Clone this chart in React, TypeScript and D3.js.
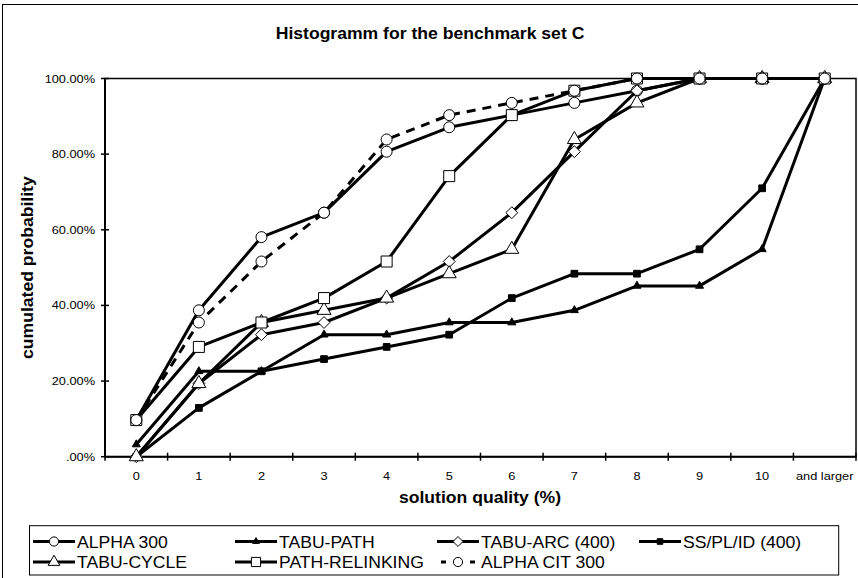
import React from "react";
import * as d3 from "d3";

const categories = ["0", "1", "2", "3", "4", "5", "6", "7", "8", "9", "10", "and larger"];
const yTicks = [0, 20, 40, 60, 80, 100];
const yTickLabels = [".00%", "20.00%", "40.00%", "60.00%", "80.00%", "100.00%"];

const alpha300 = [9.68, 38.71, 58.06, 64.52, 80.65, 87.1, 90.32, 93.55, 96.77, 100, 100, 100];
const tabuPath = [3.23, 22.58, 22.58, 32.26, 32.26, 35.48, 35.48, 38.71, 45.16, 45.16, 54.84, 100];
const tabuArc = [0, 19.35, 32.26, 35.48, 41.94, 51.61, 64.52, 80.65, 96.77, 100, 100, 100];
const ssPlId = [0, 12.9, 22.58, 25.81, 29.03, 32.26, 41.94, 48.39, 48.39, 54.84, 70.97, 100];
const tabuCycle = [0, 19.35, 35.48, 38.71, 41.94, 48.39, 54.84, 83.87, 93.55, 100, 100, 100];
const pathRelinking = [9.68, 29.03, 35.48, 41.94, 51.61, 74.19, 90.32, 96.77, 100, 100, 100, 100];
const alphaCit = [9.68, 35.48, 51.61, 64.52, 83.87, 90.32, 93.55, 96.77, 100, 100, 100, 100];

const seriesNames = ["ALPHA 300", "TABU-PATH", "TABU-ARC (400)", "SS/PL/ID (400)", "TABU-CYCLE", "PATH-RELINKING", "ALPHA CIT 300"];

// marker style per series
const series = [
  { name: seriesNames[0], values: alpha300, sym: d3.symbolCircle, size: 95, fill: "#fff", dash: null },
  { name: seriesNames[1], values: tabuPath, sym: d3.symbolTriangle, size: 28, fill: "#000", dash: null },
  { name: seriesNames[2], values: tabuArc, sym: d3.symbolDiamond2, size: 90, fill: "#fff", dash: null },
  { name: seriesNames[3], values: ssPlId, sym: d3.symbolSquare, size: 45, fill: "#000", dash: null },
  { name: seriesNames[4], values: tabuCycle, sym: d3.symbolTriangle, size: 85, fill: "#fff", dash: null },
  { name: seriesNames[5], values: pathRelinking, sym: d3.symbolSquare, size: 121, fill: "#fff", dash: null },
  { name: seriesNames[6], values: alphaCit, sym: d3.symbolCircle, size: 95, fill: "#fff", dash: "9,7" },
];

const FONT = "'Liberation Sans', Arial, Helvetica, sans-serif";

// text is a little wider than Arial in the original, so stretch it along the baseline
const T = ({ x, y, rot = 0, size = 12, bold = false, anchor = "start", children }: any) => (
  <text
    transform={`translate(${x},${y}) rotate(${rot}) scale(1.1,1)`}
    fontSize={size}
    fontWeight={bold ? "bold" : "normal"}
    textAnchor={anchor}
    fontFamily={FONT}
    fill="#000"
  >
    {children}
  </text>
);

const App = () => {
  const width = 858;
  const height = 578;
  const left = 105, right = 856, top = 78.5, bottom = 456.7;

  const x = d3.scaleBand().domain(categories).range([left, right]).padding(0);
  const y = d3.scaleLinear().domain([0, 100]).range([bottom, top]);
  const cx = (c: string) => (x(c) as number) + x.bandwidth() / 2;

  const line = d3
    .line<number>()
    .x((d, i) => cx(categories[i]))
    .y((d) => y(d));

  const xTickPos = categories.map((c) => x(c) as number).concat([right]);

  // legend layout
  const legLeft = 29.5, legTop = 525.7, legRight = 838.7, legBottom = 575;
  const colStep = 202;

  return (
    <svg width={width} height={height} style={{ position: "absolute", left: 0, top: 0, background: "#fff" }}>
      <rect x={0} y={0} width={width} height={height} fill="#fff" />
      <rect x={2.5} y={4.5} width={900} height={600} fill="none" stroke="#000" strokeWidth={1} />

      <T x={430} y={39} size={16} bold anchor="middle">Histogramm for the benchmark set C</T>

      {/* plot frame */}
      <rect x={left} y={top} width={right - left} height={bottom - top} fill="none" stroke="#000" strokeWidth={1.5} />
      <line x1={left} x2={left} y1={top} y2={bottom} stroke="#000" strokeWidth={2} />
      <line x1={left} x2={right} y1={bottom} y2={bottom} stroke="#000" strokeWidth={2} />

      {yTicks.map((t, i) => (
        <g key={"y" + t}>
          <line x1={left - 4} x2={left + 4} y1={y(t)} y2={y(t)} stroke="#000" strokeWidth={1.5} />
          <T x={95} y={y(t) + 4} size={11.6} anchor="end">{yTickLabels[i]}</T>
        </g>
      ))}

      {xTickPos.map((p, i) => (
        <line key={"xt" + i} x1={p} x2={p} y1={bottom - 4} y2={bottom + 4} stroke="#000" strokeWidth={1.5} />
      ))}
      {categories.map((c) => (
        <T key={"xl" + c} x={cx(c)} y={479.5} size={11.6} anchor="middle">{c}</T>
      ))}

      <T x={480} y={503} size={16} bold anchor="middle">solution quality (%)</T>
      <T x={33} y={267.6} rot={-90} size={16} bold anchor="middle">cumulated probability</T>

      {series.map((s) => (
        <g key={s.name}>
          <path
            d={line(s.values) as string}
            fill="none"
            stroke="#000"
            strokeWidth={3}
            strokeDasharray={s.dash || undefined}
            strokeLinejoin="round"
          />
          {s.values.map((v, i) => (
            <path
              key={i}
              d={d3.symbol().type(s.sym).size(s.size)() as string}
              transform={`translate(${cx(categories[i])},${y(v)})`}
              fill={s.fill}
              stroke="#000"
              strokeWidth={1}
            />
          ))}
        </g>
      ))}

      {/* legend */}
      <rect x={legLeft} y={legTop} width={legRight - legLeft} height={legBottom - legTop} fill="#fff" stroke="#000" strokeWidth={1} />
      {series.map((s, i) => {
        const col = i < 4 ? i : i - 4;
        const row = i < 4 ? 0 : 1;
        const sx = 33 + col * colStep;
        const sy = 541.5 + row * 20.5;
        return (
          <g key={"leg" + s.name}>
            <line
              x1={sx}
              x2={sx + 42}
              y1={sy}
              y2={sy}
              stroke="#000"
              strokeWidth={3}
              strokeDasharray={s.dash ? "0,4,5,24,5,4" : undefined}
            />
            <path
              d={d3.symbol().type(s.sym).size(s.size * 0.7)() as string}
              transform={`translate(${sx + 21},${sy})`}
              fill={s.fill}
              stroke="#000"
              strokeWidth={1}
            />
            <T x={sx + 44} y={sy + 6} size={16}>{s.name}</T>
          </g>
        );
      })}
    </svg>
  );
};

export default App;
